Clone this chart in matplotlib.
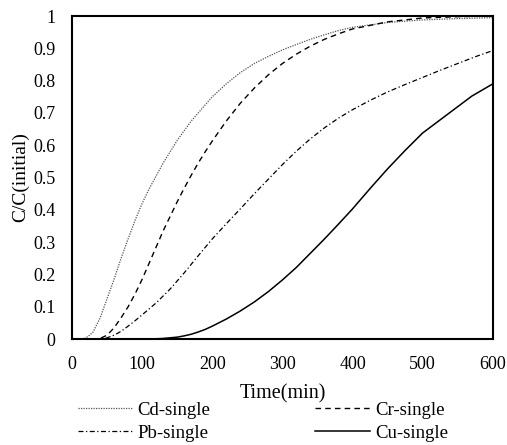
import matplotlib
matplotlib.use("Agg")
import matplotlib.pyplot as plt

# values
cd_time = [0, 15, 20, 25, 30, 40, 50, 60, 70, 80, 90, 100, 110, 120, 130, 140, 150, 160, 170, 180,
           200, 220, 240, 260, 280, 300, 320, 340, 360, 380, 400, 450, 500, 550, 600]
cd_conc = [0, 0, 0.004, 0.012, 0.022, 0.065, 0.125, 0.185, 0.25, 0.31, 0.368, 0.42, 0.465, 0.505, 0.545,
           0.58, 0.615, 0.645, 0.675, 0.70, 0.75, 0.79, 0.825, 0.853, 0.875, 0.895, 0.912, 0.928, 0.942,
           0.955, 0.965, 0.98, 0.988, 0.992, 0.995]

cr_time = [0, 35, 40, 50, 60, 70, 80, 90, 100, 110, 120, 130, 140, 150, 160, 170, 180, 190, 200,
           220, 240, 260, 280, 300, 320, 340, 360, 380, 400, 450, 500, 550, 600]
cr_conc = [0, 0, 0.002, 0.012, 0.035, 0.066, 0.10, 0.14, 0.185, 0.235, 0.285, 0.335, 0.38, 0.425, 0.467,
           0.507, 0.545, 0.58, 0.613, 0.675, 0.73, 0.777, 0.818, 0.853, 0.882, 0.907, 0.928, 0.945, 0.96,
           0.982, 0.994, 0.998, 1.0]

pb_time = [0, 40, 50, 60, 70, 80, 90, 100, 120, 140, 160, 180, 200, 220, 240, 260, 280, 300, 320, 340,
           360, 380, 400, 425, 450, 475, 500, 525, 550, 575, 600]
pb_conc = [0, 0, 0.004, 0.012, 0.024, 0.04, 0.057, 0.075, 0.112, 0.155, 0.205, 0.258, 0.31, 0.357, 0.403,
           0.45, 0.495, 0.54, 0.582, 0.62, 0.654, 0.684, 0.71, 0.739, 0.765, 0.788, 0.81, 0.832, 0.853,
           0.874, 0.893]

cu_time = [0, 100, 110, 120, 130, 140, 150, 160, 170, 180, 190, 200, 220, 240, 260, 280, 300, 320, 340,
           360, 380, 400, 425, 450, 475, 500, 570, 600]
cu_conc = [0, 0, 0.0005, 0.001, 0.002, 0.004, 0.006, 0.01, 0.015, 0.022, 0.03, 0.04, 0.062, 0.087, 0.115,
           0.147, 0.183, 0.222, 0.266, 0.31, 0.356, 0.403, 0.466, 0.527, 0.584, 0.638, 0.752, 0.79]

x_ticks = [0, 100, 200, 300, 400, 500, 600]
y_ticks = [0, 0.1, 0.2, 0.3, 0.4, 0.5, 0.6, 0.7, 0.8, 0.9, 1]
y_tick_labels = ["0", "0.1", "0.2", "0.3", "0.4", "0.5", "0.6", "0.7", "0.8", "0.9", "1"]

plt.rcParams["font.family"] = ["Liberation Serif", "DejaVu Serif"]
plt.rcParams["font.size"] = 13

fig = plt.figure(figsize=(5.07, 4.45), dpi=100)
ax = fig.add_axes([0.142, 0.238, 0.830, 0.726])

ax.plot(cd_time, cd_conc, color="#555555", lw=0.9, linestyle=(0, (1, 1)), label="Cd-single")
ax.plot(cr_time, cr_conc, color="black", lw=1.0, linestyle=(0, (4, 3)), label="Cr-single")
ax.plot(pb_time, pb_conc, color="black", lw=0.9, linestyle=(0, (4, 2, 1, 2)), label="Pb-single")
ax.plot(cu_time, cu_conc, color="black", lw=1.1, linestyle="-", label="Cu-single")

ax.set_xlim(0, 600)
ax.set_ylim(0, 1)
ax.set_xticks(x_ticks)
ax.set_yticks(y_ticks, y_tick_labels)
ax.tick_params(axis="x", length=0, pad=12)
ax.tick_params(axis="y", length=0, pad=12)
for spine in ax.spines.values():
    spine.set_linewidth(1.5)

ax.set_xlabel("Time(min)", fontsize=14.5, labelpad=8)
ax.set_ylabel("C/C(initial)", fontsize=14, labelpad=3)

handles, labels = ax.get_legend_handles_labels()
# order rows: Cd / Cr on top, Pb / Cu below
order = [0, 2, 1, 3]
fig.legend([handles[i] for i in order], [labels[i] for i in order],
           loc="upper left", bbox_to_anchor=(0.153, 0.097), ncol=2, frameon=False, fontsize=13.5,
           handlelength=2.9, handletextpad=0.3, columnspacing=5.6, labelspacing=0.3,
           borderaxespad=0, borderpad=0)

fig.savefig("out.png", dpi=100)
